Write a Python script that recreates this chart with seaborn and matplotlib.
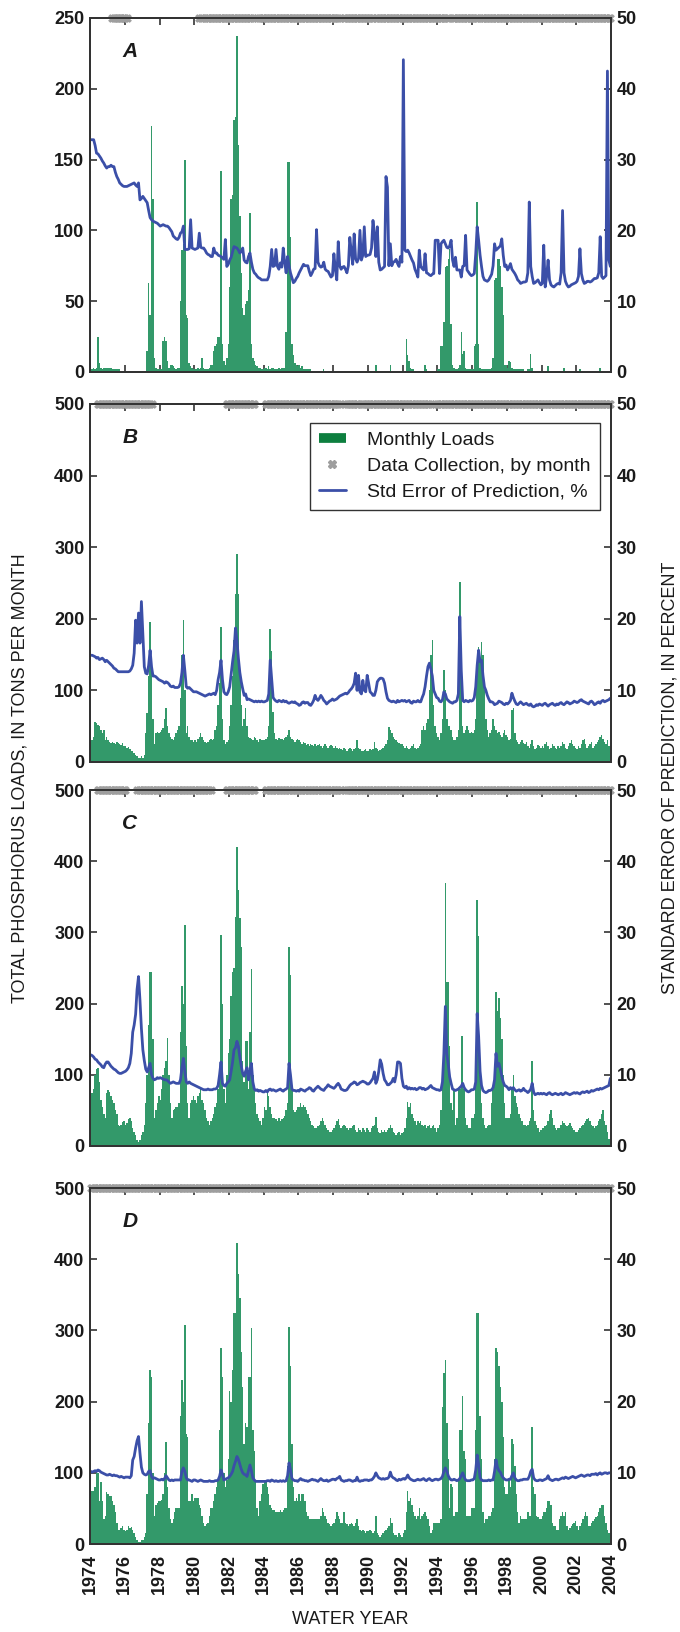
import numpy as np
import pandas as pd
import matplotlib
matplotlib.use("Agg")
import matplotlib.pyplot as plt
from matplotlib.lines import Line2D
import seaborn as sns

sns.set_style("ticks")
plt.rcParams["font.family"] = ["Liberation Sans Narrow", "Liberation Sans", "DejaVu Sans"]

# Monthly values, water years 1974-2003 (12 months per row)
# Panel A - monthly loads (tons) and std error of prediction (%)
loads_a = [
    2, 2, 3, 2, 3, 25, 6, 3, 2, 3, 3, 3,
    3, 3, 3, 2, 2, 2, 2, 2, 2, 1, 1, 1,
    1, 1, 1, 1, 1, 1, 1, 0, 0, 0, 0, 0,
    0, 0, 0, 15, 63, 40, 174, 122, 10, 3, 2, 2,
    2, 2, 22, 25, 22, 8, 3, 5, 5, 4, 3, 2,
    3, 3, 50, 86, 90, 150, 40, 38, 6, 4, 3, 2,
    2, 2, 3, 2, 3, 10, 3, 2, 2, 2, 3, 5,
    5, 15, 18, 20, 25, 25, 142, 20, 8, 5, 10, 20,
    60, 122, 125, 178, 180, 237, 160, 110, 70, 45, 40, 48,
    50, 58, 112, 20, 10, 8, 5, 4, 3, 3, 2, 2,
    3, 3, 2, 4, 2, 3, 3, 2, 2, 2, 3, 2,
    3, 3, 3, 28, 148, 148, 95, 20, 12, 6, 5, 4,
    5, 3, 4, 2, 2, 2, 2, 2, 2, 1, 1, 1,
    1, 1, 1, 1, 1, 2, 1, 1, 1, 1, 1, 1,
    1, 1, 1, 1, 1, 1, 1, 1, 1, 1, 1, 1,
    0, 1, 1, 1, 1, 1, 1, 1, 0, 0, 1, 1,
    1, 1, 1, 1, 1, 5, 1, 1, 1, 1, 1, 1,
    1, 1, 1, 5, 1, 1, 1, 1, 1, 1, 1, 1,
    1, 1, 23, 12, 8, 3, 2, 2, 1, 1, 1, 1,
    1, 1, 1, 5, 2, 1, 1, 1, 1, 1, 1, 1,
    2, 2, 18, 18, 35, 74, 75, 80, 87, 34, 5, 3,
    2, 2, 3, 5, 28, 13, 15, 3, 2, 2, 2, 2,
    2, 18, 20, 120, 20, 3, 2, 2, 2, 2, 2, 2,
    2, 3, 10, 65, 66, 80, 80, 75, 60, 40, 5, 5,
    3, 8, 7, 3, 2, 2, 2, 2, 2, 2, 2, 2,
    1, 1, 2, 2, 13, 3, 1, 1, 1, 1, 1, 1,
    1, 1, 1, 1, 4, 1, 1, 1, 1, 1, 1, 1,
    1, 1, 1, 3, 1, 1, 1, 1, 1, 1, 1, 1,
    1, 1, 2, 1, 1, 1, 1, 1, 0, 0, 0, 0,
    0, 0, 1, 1, 3, 1, 1, 0, 0, 0, 0, 0,
]
sep_a = [
    32.8, 32.8, 32.8, 32.0, 30.9, 30.8, 30.5, 30.2, 29.8, 29.5, 29.1, 28.8,
    29.0, 29.0, 29.2, 29.0, 29.0, 28.2, 27.6, 27.2, 26.7, 26.5, 26.3, 26.2,
    26.2, 26.2, 26.3, 26.4, 26.5, 26.6, 26.7, 26.4, 26.2, 26.7, 24.3, 24.5,
    24.8, 24.5, 24.2, 23.9, 22.8, 21.8, 21.5, 21.3, 21.2, 21.1, 21.0, 20.8,
    20.6, 20.7, 20.8, 20.7, 20.6, 20.6, 20.4, 20.1, 19.8, 19.2, 19.0, 18.8,
    18.7, 19.0, 19.6, 19.8, 20.6, 17.3, 17.3, 17.3, 17.4, 21.5, 17.5, 17.4,
    17.3, 17.4, 17.5, 19.6, 17.6, 17.5, 17.5, 17.2, 16.8, 16.6, 16.5, 16.3,
    16.3, 17.5, 16.8, 16.8, 16.5, 16.4, 16.3, 16.1, 15.9, 18.7, 14.9, 15.2,
    15.8, 16.2, 17.0, 17.7, 17.6, 17.5, 17.2, 16.8, 17.0, 17.5, 15.8, 15.5,
    15.4, 16.3, 16.8, 15.5, 14.5, 14.0, 13.8, 13.5, 13.3, 13.2, 13.0, 13.0,
    13.0, 13.0, 13.0, 13.5, 14.9, 17.3, 14.9, 15.0, 17.3, 14.9, 14.5, 15.4,
    14.8, 17.5, 15.5, 14.0, 16.3, 15.0, 14.0, 13.3, 12.6, 12.8, 13.2, 13.5,
    14.0, 14.4, 14.8, 15.2, 15.0, 15.0, 15.0, 14.2, 13.6, 14.0, 14.5, 14.6,
    20.1, 15.5, 15.0, 14.8, 14.9, 15.5, 14.5, 14.3, 14.2, 13.8, 13.4, 13.6,
    16.7, 14.5, 13.0, 18.4, 15.0, 14.5, 14.8, 14.9, 14.5, 14.0, 15.0, 19.0,
    17.0, 15.2, 19.5, 16.0, 15.5, 16.0, 20.0, 15.8, 16.5, 20.5, 16.3, 16.5,
    16.5, 16.6, 17.5, 21.4, 19.5, 16.3, 20.5, 15.5, 14.4, 14.5, 14.7, 14.9,
    27.6, 26.1, 15.0, 18.1, 15.0, 15.5, 15.6, 15.9, 15.3, 14.9, 16.3, 15.5,
    44.1, 17.2, 17.0, 17.2, 16.8, 16.3, 15.8, 15.4, 14.5, 14.0, 13.4, 17.2,
    14.9, 14.6, 14.4, 16.7, 14.0, 13.9, 13.7, 13.6, 13.8, 13.9, 18.6, 18.6,
    18.6, 13.9, 18.1, 18.4, 18.6, 18.1, 17.6, 17.5, 17.8, 18.6, 15.8, 14.9,
    16.2, 14.4, 14.4, 14.4, 13.4, 14.9, 15.0, 19.3, 14.4, 14.1, 13.8, 13.6,
    13.7, 13.9, 16.7, 20.5, 18.6, 16.5, 14.9, 13.5, 13.0, 12.9, 12.8, 13.0,
    13.4, 13.8, 15.0, 18.1, 17.2, 17.4, 17.6, 17.8, 18.8, 16.5, 14.9, 15.1,
    14.4, 14.8, 15.3, 14.5, 14.2, 13.9, 13.5, 13.0, 12.8, 12.5, 12.6, 12.7,
    12.7, 12.8, 14.0, 24.0, 14.9, 13.5, 12.5, 12.6, 12.8, 13.0, 12.6, 12.3,
    12.5, 17.9, 12.0, 13.5, 15.8, 13.0, 12.3, 12.1, 12.0, 12.2, 12.4, 12.5,
    12.4, 14.0, 22.8, 14.0, 12.8, 12.3, 12.0, 12.1, 12.3, 12.4, 12.5, 12.6,
    12.8, 13.5, 17.4, 13.9, 13.0, 12.5, 12.6, 12.8, 12.8, 12.7, 12.8, 13.0,
    13.2, 13.2, 13.3, 14.0, 19.1, 13.5, 13.2, 13.4, 13.6, 42.5, 15.8, 14.9,
]

# Panel B
loads_b = [
    33, 30, 35, 56, 55, 52, 50, 45, 40, 45, 30, 35,
    30, 28, 27, 28, 26, 25, 28, 27, 25, 24, 26, 22,
    22, 20, 21, 18, 16, 15, 12, 10, 8, 6, 5, 8,
    5, 10, 40, 68, 120, 195, 140, 60, 25, 40, 42, 40,
    42, 45, 48, 60, 75, 50, 40, 35, 32, 30, 35, 40,
    45, 50, 90, 150, 198, 100, 40, 50, 35, 30, 30, 28,
    30, 28, 32, 35, 40, 35, 30, 28, 26, 28, 30, 32,
    30, 32, 45, 50, 80, 110, 188, 60, 30, 25, 28, 30,
    50, 80, 120, 170, 235, 290, 235, 120, 80, 50, 60, 75,
    50, 35, 33, 32, 30, 35, 33, 30, 28, 32, 30, 30,
    30, 32, 35, 50, 185, 155, 70, 40, 32, 30, 33, 32,
    32, 30, 33, 35, 38, 45, 35, 32, 30, 28, 30, 32,
    30, 28, 25, 28, 26, 24, 25, 22, 25, 24, 22, 25,
    22, 24, 25, 22, 20, 23, 25, 22, 20, 22, 24, 22,
    20, 22, 20, 18, 20, 18, 17, 20, 18, 16, 18, 20,
    18, 16, 18, 20, 30, 20, 18, 16, 15, 17, 18, 16,
    16, 18, 17, 18, 28, 20, 18, 16, 17, 18, 20, 22,
    25, 30, 49, 45, 40, 35, 32, 30, 28, 26, 25, 25,
    22, 20, 22, 20, 18, 20, 22, 25, 20, 18, 20, 22,
    25, 45, 50, 45, 55, 60, 100, 150, 170, 80, 50, 40,
    35, 30, 40, 60, 128, 100, 60, 50, 50, 45, 35, 30,
    30, 35, 45, 252, 150, 50, 40, 45, 50, 45, 40, 42,
    40, 45, 60, 130, 160, 145, 168, 150, 100, 60, 45, 35,
    40, 45, 60, 50, 45, 40, 42, 38, 35, 40, 45, 38,
    35, 30, 32, 72, 75, 40, 30, 28, 25, 28, 30, 26,
    25, 28, 22, 20, 25, 30, 22, 18, 20, 24, 22, 20,
    22, 20, 25, 28, 22, 18, 20, 25, 22, 20, 18, 22,
    20, 22, 28, 25, 20, 18, 22, 26, 30, 25, 22, 20,
    18, 22, 20, 25, 30, 32, 25, 20, 22, 25, 28, 20,
    22, 25, 28, 30, 35, 38, 32, 28, 25, 30, 22, 18,
]
sep_b = [
    14.9, 14.9, 14.8, 14.7, 14.5, 14.6, 14.3, 14.4, 14.5, 14.3, 14.0, 14.2,
    14.0, 13.8, 13.6, 13.4, 13.1, 13.0, 12.8, 12.6, 12.6, 12.6, 12.6, 12.6,
    12.6, 12.6, 12.6, 12.7, 13.0, 13.5, 15.2, 19.8, 16.6, 20.8, 16.6, 22.4,
    18.0, 13.3, 12.4, 12.3, 13.5, 15.6, 13.3, 12.0, 12.0, 11.9, 11.7, 11.5,
    11.4, 11.3, 11.2, 11.0, 11.2, 11.1, 10.9, 10.6, 10.5, 10.6, 10.4, 10.4,
    10.4, 10.5, 11.0, 12.5, 14.9, 12.8, 10.5, 10.3, 10.4, 10.2, 10.0, 9.8,
    9.8, 9.8, 9.7, 9.6, 9.5, 9.4, 9.3, 9.2, 9.3, 9.4, 9.5, 9.4,
    9.5, 9.6, 9.4, 10.0, 11.5, 12.5, 14.2, 11.5, 9.8, 9.5, 9.4, 9.8,
    10.5, 12.3, 14.0, 15.5, 18.7, 17.0, 14.5, 12.5, 11.2, 10.2, 9.3, 9.5,
    8.7, 8.8, 8.7, 8.6, 8.5, 8.4, 8.5, 8.4, 8.5, 8.4, 8.5, 8.4,
    8.4, 8.5, 8.6, 9.5, 14.2, 11.5, 9.0, 8.7, 8.5, 8.4, 8.6, 8.5,
    8.4, 8.6, 8.4, 8.5, 8.3, 8.2, 8.3, 8.4, 8.3, 8.4, 8.2, 8.1,
    7.9, 8.0, 8.3, 8.4, 8.2, 8.3, 8.3, 8.0, 7.9, 8.2, 8.6, 9.3,
    8.8, 8.6, 8.9, 9.3, 9.0, 8.6, 8.4, 8.1, 8.3, 8.5, 8.6, 8.8,
    8.6, 8.7, 8.8, 9.0, 9.2, 9.3, 9.4, 9.5, 9.6, 9.5, 9.7, 10.0,
    10.2, 10.5, 11.0, 12.4, 10.0, 12.1, 9.8, 9.5, 11.4, 10.0, 9.8, 12.1,
    11.0, 9.8, 9.6, 9.3, 9.3, 10.0, 11.2, 11.5, 11.7, 11.7, 11.6, 11.0,
    9.8, 8.9, 8.6, 8.5, 8.4, 8.5, 8.4, 8.3, 8.6, 8.4, 8.5, 8.6,
    8.5, 8.6, 8.4, 8.5, 8.6, 8.3, 8.2, 8.5, 8.4, 8.4, 8.6, 8.4,
    8.4, 9.0, 9.5, 10.5, 12.0, 13.3, 13.8, 13.0, 12.0, 10.0, 9.5, 9.0,
    8.9, 8.5, 8.4, 8.7, 9.8, 9.5, 8.8, 8.6, 8.4, 8.3, 8.2, 8.4,
    8.4, 8.6, 9.5, 20.3, 12.8, 8.6, 8.4, 8.6, 8.5, 8.4, 8.6, 8.5,
    8.6, 9.0, 10.5, 13.5, 15.6, 14.0, 14.2, 12.1, 10.5, 10.0, 9.3, 8.8,
    8.4, 8.4, 8.3, 8.0, 8.1, 8.2, 8.5, 8.4, 8.3, 8.1, 8.0, 8.2,
    8.1, 8.3, 8.6, 9.6, 9.0, 8.5, 8.1, 8.0, 8.2, 8.4, 8.2, 8.0,
    8.1, 8.2, 8.0, 7.9, 8.1, 7.8, 7.7, 7.8, 8.0, 7.9, 8.1, 8.0,
    7.9, 8.1, 8.2, 8.0, 7.8, 8.0, 8.1, 8.2, 8.0, 7.9, 8.1, 8.0,
    8.2, 8.3, 8.1, 8.0, 8.2, 8.4, 8.3, 8.1, 8.2, 8.3, 8.5, 8.4,
    8.3, 8.4, 8.6, 8.7, 8.5, 8.4, 8.3, 8.2, 8.1, 8.4, 8.5, 8.3,
    8.0, 8.1, 8.3, 8.4, 8.2, 8.5, 8.6, 8.4, 8.5, 8.6, 8.7, 8.9,
]

# Panel C
loads_c = [
    70, 75, 80, 100, 108, 109, 90, 65, 55, 45, 39, 75,
    78, 76, 70, 65, 60, 50, 45, 30, 28, 30, 33, 35,
    30, 32, 38, 40, 35, 25, 20, 15, 8, 5, 8, 15,
    20, 30, 60, 100, 170, 245, 245, 150, 40, 50, 60, 70,
    65, 80, 100, 110, 120, 152, 100, 60, 40, 50, 52, 55,
    55, 60, 160, 225, 200, 310, 140, 60, 40, 60, 65, 70,
    65, 60, 70, 75, 80, 65, 60, 50, 40, 35, 30, 35,
    40, 45, 55, 60, 80, 100, 296, 200, 80, 60, 100, 130,
    150, 210, 245, 250, 322, 420, 360, 320, 280, 120, 90, 148,
    148, 80, 160, 248, 100, 80, 60, 45, 40, 35, 30, 40,
    55, 50, 75, 70, 55, 45, 40, 40, 38, 35, 40, 35,
    38, 40, 42, 50, 60, 280, 240, 80, 50, 48, 50, 55,
    55, 60, 55, 58, 55, 50, 45, 40, 35, 30, 28, 25,
    25, 28, 30, 35, 40, 35, 30, 25, 22, 20, 20, 22,
    25, 30, 35, 38, 30, 25, 28, 30, 28, 25, 22, 25,
    25, 28, 30, 22, 20, 25, 22, 20, 25, 22, 20, 25,
    22, 20, 25, 28, 30, 41, 25, 20, 18, 22, 20, 22,
    20, 22, 25, 30, 25, 20, 18, 15, 18, 20, 15, 18,
    20, 25, 40, 62, 55, 60, 45, 40, 35, 30, 35, 32,
    35, 30, 28, 30, 25, 28, 30, 25, 28, 30, 25, 20,
    25, 30, 50, 100, 150, 369, 231, 230, 140, 60, 50, 80,
    30, 40, 80, 80, 155, 155, 80, 40, 30, 25, 25, 40,
    40, 45, 90, 345, 295, 100, 60, 40, 30, 25, 28, 30,
    30, 60, 80, 100, 217, 190, 208, 180, 150, 100, 60, 40,
    40, 40, 45, 80, 100, 70, 60, 55, 45, 40, 35, 30,
    30, 28, 30, 35, 40, 120, 50, 35, 30, 25, 20, 22,
    25, 25, 28, 30, 35, 45, 50, 40, 30, 25, 22, 25,
    25, 30, 35, 32, 30, 28, 30, 32, 28, 25, 22, 20,
    20, 22, 25, 28, 30, 32, 35, 38, 40, 35, 30, 28,
    25, 28, 30, 35, 38, 45, 50, 35, 30, 20, 10, 5,
]
sep_c = [
    12.8, 12.7, 12.5, 12.2, 12.1, 11.8, 11.6, 11.4, 11.1, 11.0, 11.5, 11.8,
    11.8, 11.5, 11.2, 11.0, 10.8, 10.7, 10.5, 10.3, 10.2, 10.2, 10.3, 10.4,
    10.5, 10.7, 11.0, 11.6, 13.0, 16.0, 17.0, 18.5, 22.0, 23.8, 20.5, 16.5,
    13.5, 12.0, 10.8, 10.4, 11.0, 11.6, 10.0, 9.5, 9.3, 9.4, 9.6, 9.5,
    9.6, 9.5, 9.4, 9.3, 9.3, 9.2, 9.0, 8.8, 8.9, 9.0, 8.9, 8.8,
    8.8, 8.8, 9.3, 11.0, 12.3, 10.5, 9.0, 8.8, 9.0, 8.8, 8.7, 8.6,
    8.5, 8.4, 8.3, 8.2, 8.1, 8.0, 7.9, 7.9, 7.9, 8.0, 7.9, 7.9,
    7.9, 8.0, 8.0, 8.1, 8.5, 10.0, 11.8, 8.8, 8.5, 8.4, 8.8, 9.0,
    9.3, 10.5, 11.8, 13.5, 13.8, 14.7, 14.0, 12.5, 11.2, 10.2, 9.8, 10.5,
    11.0, 9.3, 10.5, 11.6, 9.0, 8.0, 7.8, 7.9, 7.7, 7.8, 7.7, 7.6,
    7.6, 7.8, 7.6, 7.9, 8.0, 7.8, 7.9, 7.8, 7.7, 7.8, 7.9, 8.0,
    7.8, 7.7, 7.9, 8.0, 8.2, 11.6, 10.0, 8.0, 7.8, 7.8, 7.7, 7.8,
    7.7, 8.0, 7.9, 7.8, 7.7, 7.9, 8.0, 8.2, 8.1, 7.8, 7.7, 8.0,
    8.2, 8.4, 8.2, 8.0, 7.9, 7.8, 8.1, 8.3, 8.6, 8.4, 8.3, 8.2,
    8.1, 8.3, 8.6, 8.8, 8.5, 8.0, 7.9, 7.8, 7.8, 7.9, 8.2, 8.5,
    8.7, 8.8, 9.0, 8.9, 8.6, 8.7, 8.9, 9.0, 9.1, 9.0, 8.9, 8.7,
    8.7, 8.9, 9.2, 9.5, 10.4, 8.8, 9.3, 10.5, 12.1, 11.5, 10.2, 9.3,
    9.0, 8.6, 8.6, 8.8, 9.0, 9.5, 9.0, 10.0, 11.8, 11.8, 11.6, 9.5,
    8.4, 8.2, 8.4, 8.0, 8.2, 8.0, 8.1, 8.0, 8.1, 7.9, 8.0, 8.2,
    8.2, 8.0, 8.1, 7.9, 8.0, 8.1, 8.3, 8.5, 8.2, 8.1, 8.0, 7.9,
    7.9, 7.8, 7.9, 9.0, 13.0, 19.6, 13.0, 11.5, 9.7, 8.8, 8.0, 7.9,
    7.8, 7.9, 8.0, 8.2, 8.4, 8.8, 8.2, 7.9, 7.7, 7.6, 7.7, 7.9,
    7.9, 8.0, 9.0, 18.6, 15.4, 10.5, 8.5, 7.8, 7.6, 7.5, 7.6, 7.8,
    7.8, 7.9, 8.2, 9.3, 13.0, 11.2, 11.6, 10.8, 9.8, 9.0, 8.5, 8.4,
    8.2, 7.9, 8.2, 8.0, 8.2, 7.9, 7.7, 7.8, 7.9, 7.7, 7.8, 8.1,
    7.8, 7.7, 7.5, 7.7, 8.0, 8.8, 7.6, 7.2, 7.3, 7.4, 7.3, 7.4,
    7.3, 7.4, 7.3, 7.2, 7.4, 7.5, 7.3, 7.2, 7.3, 7.4, 7.3, 7.2,
    7.3, 7.4, 7.2, 7.3, 7.5, 7.4, 7.3, 7.2, 7.3, 7.4, 7.5, 7.4,
    7.5, 7.4, 7.3, 7.5, 7.6, 7.5, 7.6, 7.7, 7.5, 7.6, 7.8, 7.7,
    7.8, 7.9, 8.0, 7.9, 8.1, 8.0, 8.1, 8.2, 8.3, 8.4, 8.5, 9.5,
]

# Panel D
loads_d = [
    70, 75, 75, 80, 100, 100, 60, 87, 60, 35, 40, 73,
    70, 68, 67, 60, 55, 45, 30, 20, 20, 22, 25, 20,
    18, 20, 25, 22, 24, 20, 15, 10, 5, 3, 3, 5,
    5, 10, 15, 70, 170, 245, 235, 100, 40, 55, 58, 60,
    60, 62, 70, 100, 143, 80, 50, 35, 30, 35, 45, 50,
    50, 50, 180, 230, 200, 307, 155, 150, 60, 60, 70, 60,
    65, 65, 65, 55, 50, 40, 30, 25, 28, 30, 40, 50,
    50, 60, 70, 80, 90, 160, 275, 235, 100, 80, 90, 120,
    215, 200, 245, 325, 325, 423, 380, 345, 270, 220, 140, 170,
    165, 235, 235, 303, 160, 130, 90, 50, 40, 60, 70, 85,
    90, 88, 80, 70, 55, 50, 48, 48, 45, 45, 45, 48,
    45, 48, 50, 50, 110, 305, 250, 140, 80, 60, 65, 60,
    70, 60, 70, 70, 60, 45, 40, 35, 35, 35, 35, 35,
    35, 35, 35, 40, 50, 45, 40, 35, 30, 28, 25, 28,
    30, 35, 45, 40, 35, 30, 30, 45, 30, 28, 25, 28,
    30, 28, 25, 30, 35, 25, 20, 18, 20, 18, 15, 18,
    18, 20, 18, 15, 18, 40, 15, 12, 10, 12, 15, 18,
    20, 22, 25, 37, 30, 15, 12, 12, 10, 15, 12, 10,
    15, 20, 45, 74, 60, 65, 55, 45, 40, 35, 40, 50,
    35, 40, 42, 45, 40, 35, 25, 15, 20, 30, 30, 30,
    30, 30, 35, 193, 240, 259, 170, 120, 50, 85, 80, 40,
    45, 45, 90, 160, 160, 208, 130, 120, 40, 40, 40, 50,
    50, 50, 160, 325, 325, 180, 120, 45, 30, 35, 35, 40,
    40, 45, 50, 120, 275, 270, 250, 220, 200, 150, 80, 70,
    70, 90, 80, 148, 140, 110, 70, 45, 30, 40, 35, 35,
    35, 35, 45, 40, 40, 165, 80, 70, 40, 38, 35, 35,
    40, 45, 45, 50, 60, 60, 55, 30, 25, 25, 20, 20,
    35, 40, 45, 40, 45, 25, 20, 22, 25, 28, 30, 32,
    25, 20, 25, 30, 35, 40, 45, 40, 25, 25, 30, 32,
    35, 38, 40, 45, 50, 55, 55, 40, 30, 20, 15, 12,
]
sep_d = [
    10.2, 10.1, 10.2, 10.3, 10.2, 10.4, 10.3, 10.1, 10.0, 9.9, 9.8, 9.7,
    9.7, 9.8, 9.7, 9.6, 9.7, 9.6, 9.6, 9.5, 9.4, 9.5, 9.4, 9.3,
    9.4, 9.4, 9.4, 9.3, 9.6, 11.8, 12.3, 13.5, 14.5, 15.1, 12.8, 10.8,
    10.0, 9.8, 9.7, 9.8, 10.2, 10.3, 9.5, 9.2, 9.3, 9.2, 9.1, 9.0,
    9.0, 9.1, 9.0, 9.2, 9.6, 9.3, 9.0, 8.9, 9.0, 8.9, 9.0, 9.0,
    9.0, 9.0, 9.0, 10.2, 10.7, 10.2, 9.3, 9.0, 9.0, 8.9, 8.8, 9.0,
    9.0, 8.9, 8.8, 8.9, 9.0, 8.9, 8.8, 8.8, 8.8, 8.8, 8.9, 8.8,
    8.8, 8.8, 8.9, 8.9, 9.0, 9.5, 10.4, 9.8, 9.0, 9.1, 9.2, 9.3,
    9.5, 9.8, 10.2, 11.0, 11.6, 12.3, 11.9, 11.2, 10.5, 10.0, 9.8, 9.7,
    9.5, 10.3, 11.1, 10.3, 9.3, 9.0, 8.8, 8.8, 8.8, 8.8, 8.8, 8.8,
    8.8, 8.8, 8.9, 8.9, 8.8, 9.0, 8.9, 8.8, 8.9, 8.8, 8.8, 8.9,
    8.8, 8.9, 8.8, 8.9, 9.6, 11.4, 10.5, 9.2, 9.0, 8.9, 8.9, 8.8,
    9.0, 9.2, 9.0, 9.0, 8.9, 8.9, 8.8, 8.9, 9.0, 9.1, 9.0, 9.0,
    8.9, 8.8, 9.0, 9.2, 9.0, 8.9, 8.9, 9.0, 8.8, 8.9, 9.0, 9.1,
    9.1, 9.0, 9.2, 9.3, 9.5, 9.0, 8.9, 8.8, 8.9, 8.9, 9.0, 9.0,
    8.9, 8.8, 8.9, 8.9, 9.4, 8.9, 8.8, 8.9, 8.9, 9.0, 9.0, 9.0,
    8.9, 9.0, 9.0, 9.2, 9.5, 10.0, 9.6, 9.3, 9.2, 9.1, 9.2, 9.1,
    9.2, 9.2, 9.4, 10.1, 9.5, 9.3, 9.2, 9.0, 8.9, 9.1, 9.0, 9.1,
    9.2, 9.1, 9.3, 9.7, 9.3, 9.1, 9.0, 8.9, 8.9, 9.0, 9.1, 9.0,
    9.0, 9.1, 9.2, 9.0, 8.9, 9.1, 9.2, 9.0, 8.9, 9.0, 9.1, 9.1,
    9.0, 9.1, 9.2, 9.5, 10.2, 10.7, 10.3, 9.6, 9.2, 9.0, 9.0, 9.1,
    9.0, 8.9, 9.0, 9.2, 9.6, 10.0, 9.4, 9.0, 8.9, 8.9, 8.9, 9.0,
    9.0, 9.2, 10.4, 12.5, 11.2, 9.3, 9.0, 8.9, 8.9, 8.9, 8.9, 9.0,
    8.9, 9.0, 9.0, 10.2, 11.8, 10.8, 10.3, 10.1, 9.6, 9.3, 9.1, 9.0,
    9.0, 9.1, 9.1, 9.6, 10.0, 9.3, 9.0, 8.9, 8.9, 9.0, 9.0, 9.1,
    9.1, 9.1, 9.1, 9.5, 10.2, 10.5, 9.3, 9.0, 8.9, 8.9, 9.0, 9.0,
    8.9, 9.0, 9.1, 9.2, 9.6, 9.1, 9.0, 8.9, 9.0, 9.1, 9.1, 9.0,
    9.1, 9.2, 9.3, 9.2, 9.4, 9.3, 9.2, 9.3, 9.4, 9.5, 9.4, 9.3,
    9.4, 9.5, 9.6, 9.7, 9.6, 9.5, 9.6, 9.7, 9.7, 9.6, 9.8, 9.8,
    9.8, 9.9, 9.7, 9.9, 10.0, 9.8, 9.9, 10.0, 10.0, 9.9, 10.0, 10.0,
]

# months with samples collected (start, end in decimal water year)
coll_a = [(1975.25, 1976.2), (1980.25, 1980.5), (1980.6, 1983.45), (1983.55, 1988.45),
          (1988.55, 1990.3), (1990.4, 1994.7), (1994.8, 1996.3), (1996.4, 2004.0)]
coll_b = [(1974.45, 1977.55), (1981.85, 1983.5), (1984.05, 1988.4), (1988.65, 1989.5),
          (1989.6, 1993.7), (1993.8, 2004.0)]
coll_c = [(1974.45, 1976.1), (1976.7, 1981.0), (1981.85, 1983.5), (1984.05, 1988.5),
          (1988.65, 1999.0), (1999.1, 2004.0)]
coll_d = [(1974.0, 2004.0)]

panels = [
    ("A", loads_a, sep_a, coll_a, 250, 50),
    ("B", loads_b, sep_b, coll_b, 500, 100),
    ("C", loads_c, sep_c, coll_c, 500, 100),
    ("D", loads_d, sep_d, coll_d, 500, 100),
]

GREEN = "#33996a"
LEGEND_GREEN = "#0d7f3f"
BLUE = "#3b4fa8"
GRAY = "#9e9e9e"
SPINE = "#333333"
TEXT = "#1a1a1a"

t = 1974 + (np.arange(360) + 0.5) / 12

fig = plt.figure(figsize=(6.8, 16.32), dpi=100)
boxes = [(0.7721, 0.2169), (0.5331, 0.2194), (0.2978, 0.2181), (0.0539, 0.2181)]

for (label, loads, sep, coll, ymax, ystep), (bot, hgt) in zip(panels, boxes):
    df = pd.DataFrame({"t": t, "load": loads, "sep": sep})
    ax = fig.add_axes([0.1324, bot, 0.7662, hgt])
    sns.histplot(data=df, x="t", weights="load", bins=360, binrange=(1974, 2004),
                 color=GREEN, alpha=1, linewidth=0, ax=ax)
    ax.set_xlim(1974, 2004)
    ax.set_ylim(0, ymax)
    ax.set_yticks(np.arange(0, ymax + 1, ystep))
    ax.set_xticks(np.arange(1974, 2005, 2))
    ax.set_xlabel("")
    ax.set_ylabel("")
    ax.tick_params(axis="x", direction="in", top=True, length=5, width=1.2,
                   labelsize=13, color=SPINE, labelcolor=TEXT)
    ax.tick_params(axis="y", direction="in", right=False, length=5, width=1.2,
                   labelsize=13, pad=4, color=SPINE, labelcolor=TEXT)
    if label == "D":
        ax.tick_params(axis="x", labelrotation=90, pad=7)
    else:
        ax.tick_params(axis="x", labelbottom=False)

    # data collection marks along the top edge
    mask = np.zeros(360, dtype=bool)
    for s, e in coll:
        mask |= (t >= s) & (t <= e)
    sns.scatterplot(x=t[mask], y=np.full(mask.sum(), ymax), ax=ax, marker="X",
                    s=40, color=GRAY, linewidth=0, clip_on=False, zorder=5)

    ax2 = ax.twinx()
    sns.lineplot(data=df, x="t", y="sep", ax=ax2, color=BLUE, linewidth=2.0)
    ax2.set_ylim(0, 50)
    ax2.set_yticks(np.arange(0, 51, 10))
    ax2.set_ylabel("")
    ax2.tick_params(axis="y", direction="in", length=5, width=1.2,
                    labelsize=13, pad=4, color=SPINE, labelcolor=TEXT)
    for a in (ax, ax2):
        for sp in a.spines.values():
            sp.set_color(SPINE)
            sp.set_linewidth(1.4)
    for tl in ax.get_xticklabels() + ax.get_yticklabels() + ax2.get_yticklabels():
        tl.set_fontweight("bold")

    ax.text(0.062, 0.905, label, transform=ax.transAxes, fontsize=15,
            fontweight="bold", fontstyle="italic", ha="left", va="center",
            color=TEXT)

    if label == "B":
        handles = [
            Line2D([], [], color=LEGEND_GREEN, lw=7, solid_capstyle="butt"),
            Line2D([], [], ls="none", marker="X", color=GRAY, markersize=6),
            Line2D([], [], color=BLUE, lw=2),
        ]
        names = ["Monthly Loads", "Data Collection, by month",
                 "Std Error of Prediction, %"]
        leg = ax2.legend(handles, names, loc="upper left",
                         bbox_to_anchor=(0.422, 0.947), borderaxespad=0,
                         fontsize=14, frameon=True, fancybox=False,
                         edgecolor="black", handlelength=1.4,
                         handletextpad=1.1, borderpad=0.45, labelspacing=0.42)
        leg.get_frame().set_linewidth(1.0)
        for txt in leg.get_texts():
            txt.set_color(TEXT)

fig.text(0.03, 1 - 778 / 1632, "TOTAL PHOSPHORUS LOADS, IN TONS PER MONTH",
         rotation=90, ha="center", va="center", fontsize=13, color=TEXT)
fig.text(0.985, 1 - 778 / 1632, "STANDARD ERROR OF PREDICTION, IN PERCENT",
         rotation=90, ha="center", va="center", fontsize=13, color=TEXT)
fig.text(0.515, 1 - 1620 / 1632, "WATER YEAR", ha="center", va="center",
         fontsize=13, color=TEXT)

fig.savefig("out.png", dpi=100)
